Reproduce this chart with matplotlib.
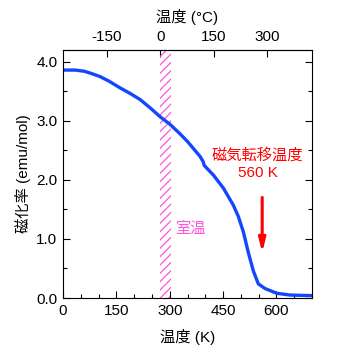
import matplotlib
matplotlib.use("Agg")
import matplotlib.pyplot as plt
from matplotlib.ticker import MultipleLocator, FixedLocator

plt.rcParams['font.family'] = ['Liberation Sans', 'Noto Sans CJK JP']
plt.rcParams['hatch.linewidth'] = 0.9
plt.rcParams['axes.unicode_minus'] = False

# Data (temperature in K, susceptibility emu/mol)
temp_K = [0, 34, 60, 76, 104, 130, 160, 190, 217, 245, 273, 301, 329, 350, 371, 385, 394, 397,
          423, 451, 479, 493, 507, 521, 535, 549, 568, 601, 638, 700]
chi = [3.86, 3.86, 3.84, 3.81, 3.75, 3.67, 3.56, 3.46, 3.36, 3.22, 3.07, 2.94, 2.78, 2.65, 2.50,
       2.40, 2.31, 2.245, 2.08, 1.86, 1.57, 1.38, 1.12, 0.77, 0.46, 0.24, 0.16, 0.08, 0.05, 0.04]
room_band = [273, 303]
transition_K = 560
bottom_ticks = [0, 150, 300, 450, 600]
top_ticks = [-150, 0, 150, 300]
y_ticks = [0.0, 1.0, 2.0, 3.0, 4.0]

fig = plt.figure(figsize=(3.5, 3.49), dpi=100)
ax = fig.add_axes([63/350, 51/349, 249/350, 248/349])

ax.axvspan(room_band[0], room_band[1], facecolor='none', edgecolor='#ff55dd',
           hatch='////', linewidth=0)
ax.plot(temp_K, chi, color='#1446ff', lw=2.4, solid_joinstyle='round', solid_capstyle='round')

ax.set_xlim(0, 700)
ax.set_ylim(0, 4.2)
ax.xaxis.set_major_locator(FixedLocator(bottom_ticks))
ax.xaxis.set_minor_locator(MultipleLocator(50))
ax.yaxis.set_major_locator(FixedLocator(y_ticks))
ax.yaxis.set_minor_locator(MultipleLocator(0.5))
ax.set_yticklabels([f"{v:.1f}" for v in y_ticks])
ax.tick_params(which='both', direction='in', right=True, top=False, labelsize=11, width=0.8)
ax.tick_params(which='major', length=5, pad=4)
ax.tick_params(which='minor', length=3)
for s in ax.spines.values():
    s.set_linewidth(0.8)

sec = ax.secondary_xaxis('top', functions=(lambda k: k - 273.15, lambda c: c + 273.15))
sec.xaxis.set_major_locator(FixedLocator(top_ticks))
sec.tick_params(direction='in', length=5, labelsize=11, width=0.8, pad=4)
sec.set_xlabel('温度 (°C)', fontsize=11, labelpad=6)

ax.set_xlabel('温度 (K)', fontsize=11, labelpad=8)
ax.set_ylabel('磁化率 (emu/mol)', fontsize=11, labelpad=4)

ax.text(315, 1.18, '室温', color='#ff55dd', fontsize=11, ha='left', va='center')
ax.text(546, 2.41, '磁気転移温度', color='#ff0000', fontsize=11, ha='center', va='center')
ax.text(548, 2.11, '560 K', color='#ff0000', fontsize=11, ha='center', va='center')
ax.annotate('', xy=(transition_K, 0.72), xytext=(transition_K, 1.75),
            arrowprops=dict(arrowstyle='-|>,head_width=0.2,head_length=0.8', color='#ff0000', lw=2.2))

fig.savefig('out.png', dpi=100)
